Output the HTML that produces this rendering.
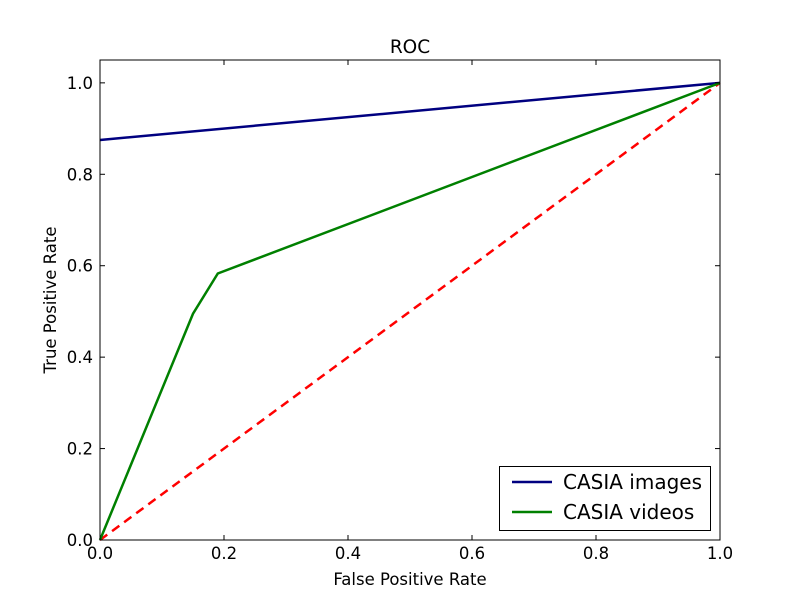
<!DOCTYPE html>
<html><head><meta charset="utf-8"><style>
body{margin:0;background:#fff;}
svg{font-family:"DejaVu Sans","Liberation Sans",sans-serif;}
</style></head><body>
<svg id="chart" width="800" height="600" viewBox="0 0 800 600">
<rect width="800" height="600" fill="#fff"/>
<g id="marks"></g>
<rect x="100" y="60" width="620" height="480" fill="none" stroke="#000" stroke-width="1"/>
<g id="ticks"></g>
<text x="410" y="53" font-size="18.5" text-anchor="middle">ROC</text>
<text x="410" y="585" font-size="16.5" text-anchor="middle">False Positive Rate</text>
<text x="56" y="300" font-size="16.5" text-anchor="middle" transform="rotate(-90 56 300)">True Positive Rate</text>
<g>
<rect x="499.5" y="466.5" width="211" height="64" fill="#fff" stroke="#000"/>
<line x1="512" y1="482" x2="552" y2="482" stroke="#000080" stroke-width="2.5"/>
<text x="563" y="489" font-size="20">CASIA images</text>
<line x1="512" y1="512" x2="552" y2="512" stroke="#008000" stroke-width="2.5"/>
<text x="563" y="519" font-size="20">CASIA videos</text>
</g>
</svg>
<script>
const imagesFpr=[0,1];
const imagesTpr=[0.875,1];
const videosFpr=[0,0.15,0.19,1];
const videosTpr=[0,0.495,0.583,1];
const chanceFpr=[0,1];
const chanceTpr=[0,1];
const xTicks=[0,0.2,0.4,0.6,0.8,1.0];
const yTicks=[0,0.2,0.4,0.6,0.8,1.0];
const xTickLabels=["0.0","0.2","0.4","0.6","0.8","1.0"];
const yTickLabels=["0.0","0.2","0.4","0.6","0.8","1.0"];
const NS="http://www.w3.org/2000/svg";
const X0=100,X1=720,Y0=540,Y1=60,YMAX=1.05;
function sx(v){return X0+(X1-X0)*v;}
function sy(v){return Y0-(Y0-Y1)*v/YMAX;}
const marks=document.getElementById('marks');
function poly(xs,ys,color,dash,name){
  const p=document.createElementNS(NS,'polyline');
  p.setAttribute('points',xs.map((x,i)=>sx(x)+','+sy(ys[i])).join(' '));
  p.setAttribute('fill','none');p.setAttribute('stroke',color);p.setAttribute('stroke-width','2.5');
  if(dash)p.setAttribute('stroke-dasharray',dash);
  
  
  marks.appendChild(p);
}
poly(chanceFpr,chanceTpr,'#ff0000','9,6','chance-line');
poly(imagesFpr,imagesTpr,'#000080',null,'casia-images-line');
poly(videosFpr,videosTpr,'#008000',null,'casia-videos-line');
const tg=document.getElementById('ticks');
function el(tag,attrs,txt){const e=document.createElementNS(NS,tag);for(const k in attrs)e.setAttribute(k,attrs[k]);if(txt!=null)e.textContent=txt;tg.appendChild(e);return e;}
xTicks.forEach((v,i)=>{
  const x=sx(v);
  const a=el('line',{x1:x,y1:540,x2:x,y2:535,stroke:'#000'});
  
  
  const b=el('line',{x1:x,y1:60,x2:x,y2:65,stroke:'#000'});
  
  
  const t=el('text',{x:x,y:559,'font-size':16.5,'text-anchor':'middle'},xTickLabels[i]);
  
  
});
yTicks.forEach((v,i)=>{
  const y=sy(v);
  const a=el('line',{x1:100,y1:y,x2:105,y2:y,stroke:'#000'});
  
  
  const b=el('line',{x1:720,y1:y,x2:715,y2:y,stroke:'#000'});
  
  
  const t=el('text',{x:93,y:y+6,'font-size':16.5,'text-anchor':'end'},yTickLabels[i]);
  
  
});
</script>
</body></html>
